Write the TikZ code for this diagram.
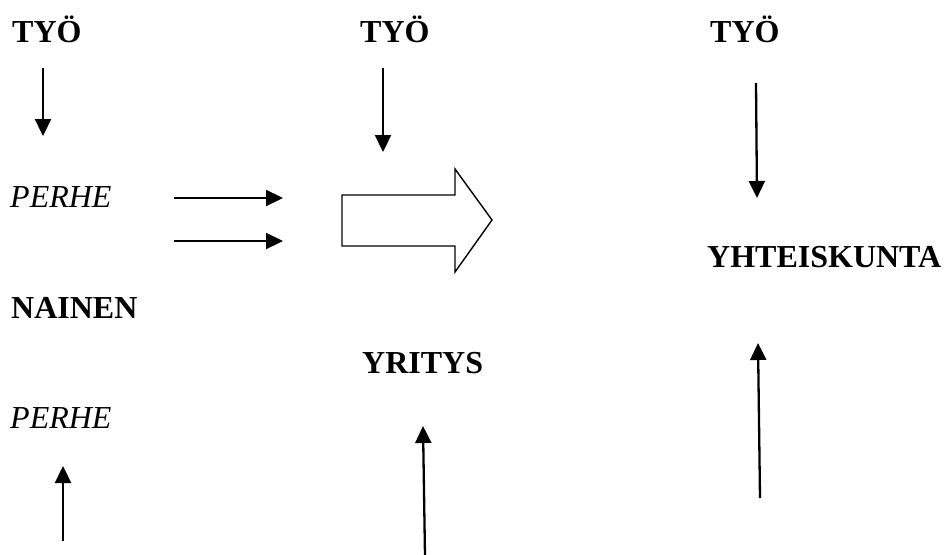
\documentclass[tikz,border=0pt]{standalone}
\usepackage{fontspec}
\setmainfont{Liberation Serif}
\usetikzlibrary{arrows.meta}
\begin{document}
\begin{tikzpicture}[x=1pt,y=-1pt,
  lbl/.style={anchor=base west,inner sep=0pt,font=\fontsize{32}{36}\selectfont\bfseries},
  ilbl/.style={anchor=base west,inner sep=0pt,font=\fontsize{32}{36}\selectfont\itshape},
  arr/.style={line width=2.3pt,-{Triangle[width=16pt,length=17pt]}},
  bigarrow/.style={line width=1.4pt,line join=miter}]
\useasboundingbox (0,0) rectangle (944,554);
% texts
\node[lbl] (tyo1) at (12,42) {TYÖ};
\node[lbl] (tyo2) at (360,42) {TYÖ};
\node[lbl] (tyo3) at (710,42) {TYÖ};
\node[ilbl] (perhe1) at (10,207) {PERHE};
\node[lbl] (nainen) at (11,318) {NAINEN};
\node[lbl] (yritys) at (362,373) {YRITYS};
\node[ilbl] (perhe2) at (10,428) {PERHE};
\node[lbl] (yht) at (707,267) {YHTEISKUNTA};
% arrow end points
\coordinate (a1s) at (43,68);   \coordinate (a1e) at (43,136);
\coordinate (a2s) at (383,68);  \coordinate (a2e) at (383,152);
\coordinate (a3s) at (756,83);  \coordinate (a3e) at (757,198);
\coordinate (h1s) at (174,198); \coordinate (h1e) at (283,198);
\coordinate (h2s) at (174,241); \coordinate (h2e) at (283,241);
\coordinate (u1s) at (63,541);  \coordinate (u1e) at (63,466);
\coordinate (u2s) at (425,556); \coordinate (u2e) at (423,426);
\coordinate (u3s) at (760,498); \coordinate (u3e) at (758,343);
\draw[arr] (a1s) -- (a1e);
\draw[arr] (a2s) -- (a2e);
\draw[arr] (a3s) -- (a3e);
\draw[arr] (h1s) -- (h1e);
\draw[arr] (h2s) -- (h2e);
\draw[arr] (u1s) -- (u1e);
\draw[arr] (u2s) -- (u2e);
\draw[arr] (u3s) -- (u3e);
% big block arrow
\draw[bigarrow] (342,195) -- (455,195) -- (455,169) -- (492,220) -- (455,272) -- (455,246) -- (342,246) -- cycle;
\end{tikzpicture}
\end{document}
